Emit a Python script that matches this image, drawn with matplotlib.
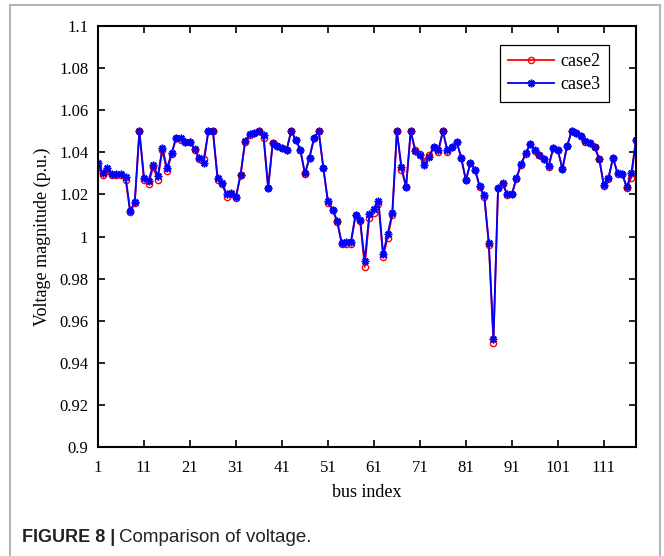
import numpy as np
import matplotlib.pyplot as plt
from matplotlib.patches import Rectangle

bus = np.arange(1, 119)

case3 = [1.035, 1.030, 1.0325, 1.0298, 1.0295, 1.0298, 1.0285, 1.012, 1.0166, 1.050,
         1.028, 1.0266, 1.034, 1.0286, 1.042, 1.0324, 1.0395, 1.047, 1.0468, 1.045,
         1.045, 1.0416, 1.0373, 1.035, 1.050, 1.050, 1.028, 1.0253, 1.020, 1.0207,
         1.019, 1.0293, 1.0455, 1.0485, 1.0493, 1.050, 1.048, 1.023, 1.0446, 1.0428,
         1.042, 1.041, 1.050, 1.046, 1.0413, 1.030, 1.0375, 1.047, 1.050, 1.0326,
         1.017, 1.0128, 1.0076, 0.9969, 0.9974, 0.9974, 1.0104, 1.0079, 0.9883, 1.0105,
         1.013, 1.017, 0.9918, 1.0012, 1.0113, 1.050, 1.033, 1.0237, 1.050, 1.0405,
         1.0388, 1.0342, 1.0376, 1.0424, 1.0411, 1.050, 1.041, 1.0425, 1.045, 1.0373,
         1.0267, 1.0351, 1.0318, 1.0239, 1.0195, 0.9968, 0.9512, 1.0231, 1.0252, 1.020,
         1.020, 1.0278, 1.0344, 1.0395, 1.044, 1.041, 1.0389, 1.037, 1.0337, 1.0421,
         1.041, 1.0321, 1.0429, 1.050, 1.049, 1.0478, 1.0452, 1.0444, 1.0424, 1.037,
         1.0244, 1.0276, 1.0375, 1.030, 1.0297, 1.0235, 1.0303, 1.046]

case2 = [1.033, 1.029, 1.031, 1.029, 1.029, 1.029, 1.027, 1.0115, 1.016, 1.050,
         1.027, 1.025, 1.033, 1.027, 1.041, 1.031, 1.039, 1.047, 1.046, 1.045,
         1.045, 1.041, 1.037, 1.037, 1.050, 1.050, 1.027, 1.025, 1.019, 1.020,
         1.0185, 1.029, 1.045, 1.048, 1.049, 1.050, 1.047, 1.023, 1.0446, 1.0428,
         1.042, 1.041, 1.050, 1.046, 1.041, 1.0295, 1.0375, 1.047, 1.050, 1.0326,
         1.016, 1.0125, 1.007, 0.9965, 0.9965, 0.9966, 1.010, 1.0075, 0.9855, 1.0088,
         1.0113, 1.0153, 0.9902, 0.9995, 1.0102, 1.050, 1.0318, 1.0233, 1.050, 1.0413,
         1.039, 1.036, 1.0385, 1.0426, 1.040, 1.050, 1.040, 1.0425, 1.045, 1.0373,
         1.0267, 1.035, 1.0316, 1.0235, 1.019, 0.996, 0.9496, 1.0229, 1.025, 1.0198,
         1.020, 1.0275, 1.034, 1.0393, 1.044, 1.0408, 1.0385, 1.0368, 1.033, 1.042,
         1.041, 1.032, 1.0429, 1.050, 1.049, 1.0478, 1.045, 1.0444, 1.0424, 1.0368,
         1.0242, 1.0275, 1.0373, 1.0298, 1.0295, 1.023, 1.028, 1.046]

xticks = [1, 11, 21, 31, 41, 51, 61, 71, 81, 91, 101, 111]
yticks = [0.9, 0.92, 0.94, 0.96, 0.98, 1.0, 1.02, 1.04, 1.06, 1.08, 1.1]
ylabels = ['0.9', '0.92', '0.94', '0.96', '0.98', '1', '1.02', '1.04', '1.06', '1.08', '1.1']

plt.rcParams['font.family'] = ['Liberation Serif', 'DejaVu Serif']

fig = plt.figure(figsize=(6.64, 5.56), dpi=100)
ax = fig.add_axes([98/664, 1 - 447/556, 538/664, 421/556])

ax.plot(bus, case2, color='red', lw=1.3, marker='o', ms=4.5, mfc='none', mew=1.0, label='case2')
# matlab-style asterisk marker
ax.plot(bus, case3, color='blue', lw=1.3, marker=(8, 2, 0), ms=5.5, mew=1.1, label='case3')

ax.set_xlim(1, 118)
ax.set_ylim(0.9, 1.1)
ax.set_xticks(xticks)
ax.set_yticks(yticks)
ax.set_yticklabels(ylabels)
ax.tick_params(direction='in', top=True, right=True, length=5, width=1.2, labelsize=12)
ax.tick_params(axis='x', pad=9)
ax.tick_params(axis='y', pad=7)
for s in ax.spines.values():
    s.set_linewidth(1.5)

ax.set_xlabel('bus index', fontsize=13, labelpad=6)
ax.set_ylabel('Voltage magnitude (p.u.)', fontsize=13, labelpad=6)

leg = ax.legend(loc='upper right', bbox_to_anchor=(0.950, 0.955), borderaxespad=0,
                fontsize=13, fancybox=False, framealpha=1, edgecolor='black',
                handlelength=2.5, handletextpad=0.4, borderpad=0.45, labelspacing=0.35)
leg.get_frame().set_linewidth(0.9)

# gray frame around the figure panel
fig.add_artist(Rectangle((10/664, -0.05), 650/664, 1.05 - 5/556, transform=fig.transFigure,
                         fill=False, edgecolor='#b4b4b4', lw=1.5))

fig.text(22/664, 1 - 538/556, 'FIGURE 8 |', fontsize=13, fontweight='bold',
         family='Liberation Sans', color='#222222', va='center')
fig.text(119/664, 1 - 538/556, 'Comparison of voltage.', fontsize=13.5,
         family='Liberation Sans', color='#222222', va='center')

fig.savefig('out.png', dpi=100)
